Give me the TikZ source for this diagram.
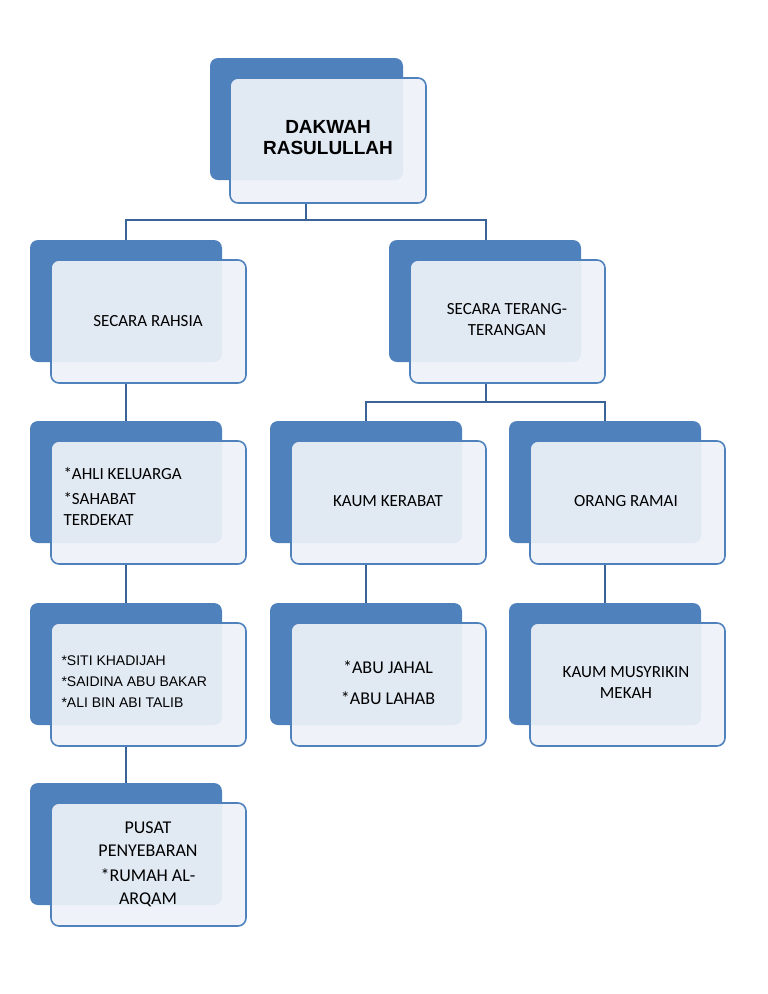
\documentclass[tikz,border=0pt]{standalone}
\usepackage{fontspec}
\setmainfont{Carlito}
\newfontfamily\arial{Liberation Sans}
\definecolor{bk}{HTML}{4F81BD}
\definecolor{fr}{HTML}{EEF2F8}
\definecolor{ln}{HTML}{3A6497}
\tikzset{
 backbox/.style={fill=bk,rounded corners=8pt},
 frontbox/.style={draw=bk,line width=1.6pt,fill=fr,fill opacity=0.92,rounded corners=8pt},
 conn/.style={draw=ln,line width=1.3pt},
 lbl/.style={align=center,font=\fontsize{17}{21}\selectfont,text=black}
}
\newcommand\mybox[3]{% x y name
 \fill[backbox] (#1,#2) rectangle ++(192,122);
 \path[frontbox] (#1+21,#2+20) rectangle ++(195,123);
 \coordinate (#3) at (#1+118,#2+81);
}
\begin{document}
\begin{tikzpicture}[x=1pt,y=-1pt]
\useasboundingbox (0,0) rectangle (768,994);
% connectors
\coordinate (tb) at (306,203);
\draw[conn] (306,203) -- (306,220) -- (126,220) -- (126,240);
\draw[conn] (306,220) -- (486,220) -- (486,240);
\draw[conn] (126,383) -- (126,421);
\draw[conn] (486,383) -- (486,402) -- (366,402) -- (366,421);
\draw[conn] (486,402) -- (605,402) -- (605,421);
\draw[conn] (126,564) -- (126,603);
\draw[conn] (366,564) -- (366,603);
\draw[conn] (605,564) -- (605,603);
\draw[conn] (126,746) -- (126,783);
% boxes
\fill[backbox] (210,58) rectangle (403,180);
\path[frontbox] (230,78) rectangle (426,203);
\mybox{30}{240}{a}
\mybox{389}{240}{b}
\mybox{30}{421}{c}
\mybox{270}{421}{d}
\mybox{509}{421}{e}
\mybox{30}{603}{f}
\mybox{270}{603}{g}
\mybox{509}{603}{h}
\mybox{30}{783}{i}
% texts
\node[lbl,font=\arial\bfseries\fontsize{19}{21}\selectfont] (t0) at (328,138) {DAKWAH\\RASULULLAH};
\node[lbl] (t1) at (148,321) {SECARA RAHSIA};
\node[lbl] (t2) at (507,320) {SECARA TERANG-\\TERANGAN};
\node[lbl,align=left,anchor=west] (t3) at (60,496) {*AHLI KELUARGA\\[4pt]*SAHABAT\\TERDEKAT};
\node[lbl] (t4) at (388,501) {KAUM KERABAT};
\node[lbl] (t5) at (626,501) {ORANG RAMAI};
\node[lbl,align=left,anchor=west,font=\arial\fontsize{14}{21}\selectfont] (t6) at (58,682) {*SITI KHADIJAH\\*SAIDINA ABU BAKAR\\*ALI BIN ABI TALIB};
\node[lbl,font=\fontsize{18}{31}\selectfont] (t7) at (388,683) {*ABU JAHAL\\*ABU LAHAB};
\node[lbl] (t8) at (626,682) {KAUM MUSYRIKIN\\MEKAH};
\node[lbl,font=\fontsize{18}{23}\selectfont] (t9) at (148,864) {PUSAT\\PENYEBARAN\\[2pt]*RUMAH AL-\\ARQAM};
\end{tikzpicture}
\end{document}
